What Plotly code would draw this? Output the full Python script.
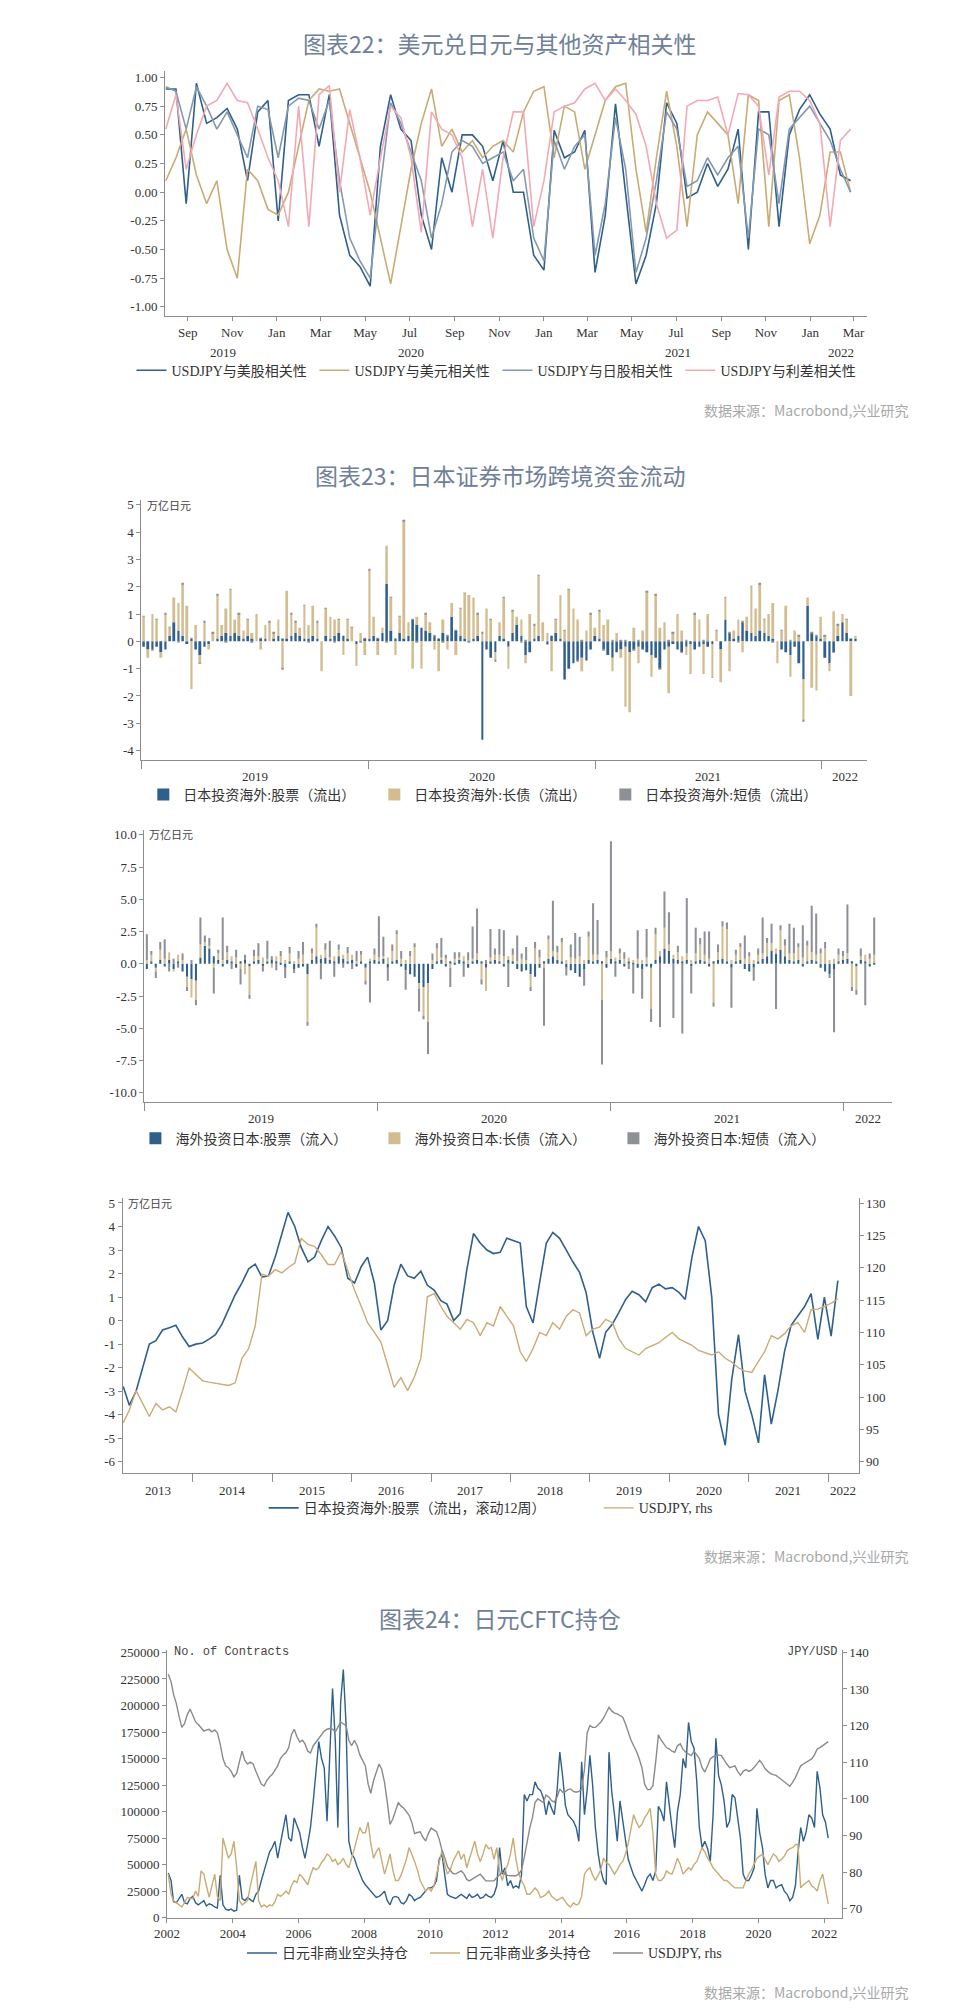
import pandas as pd
import plotly.graph_objects as go

# ---------------- DATA ----------------
# Chart 22: USDJPY correlations, bi-weekly from Aug 2019
p1_dates = pd.date_range("2019-08-02", periods=68, freq="14D")
corr_spx = [0.90, 0.90, -0.10, 0.95, 0.60, 0.65, 0.73, 0.55, 0.10, 0.70,
            0.80, -0.25, 0.80, 0.85, 0.85, 0.40, 0.85, -0.20, -0.55, -0.65,
            -0.82, 0.40, 0.85, 0.55, 0.45, -0.20, -0.50, 0.30, 0.00, 0.50,
            0.50, 0.40, 0.10, 0.45, 0.00, 0.00, -0.55, -0.68, 0.54, 0.30,
            0.35, 0.54, -0.70, -0.20, 0.77, 0.00, -0.80, -0.55, -0.10, 0.78,
            0.60, -0.05, 0.00, 0.25, 0.05, 0.20, 0.55, -0.50, 0.70, 0.70,
            -0.30, 0.50, 0.72, 0.85, 0.68, 0.55, 0.15, 0.10]
corr_usd = [0.10, 0.30, 0.55, 0.15, -0.10, 0.10, -0.50, -0.75, 0.20, 0.10,
            -0.15, -0.20, 0.00, 0.40, 0.80, 0.90, 0.88, 0.90, 0.60, 0.30,
            0.00, -0.40, -0.80, -0.30, 0.20, 0.60, 0.90, 0.40, 0.55, 0.35,
            0.45, 0.30, 0.40, 0.45, 0.35, 0.70, 0.88, 0.92, 0.30, 0.75,
            0.70, 0.20, 0.50, 0.80, 0.92, 0.95, 0.20, -0.35, 0.30, 0.88,
            0.40, -0.30, 0.50, 0.70, 0.60, 0.50, -0.10, 0.85, 0.80, -0.30,
            0.80, 0.85, 0.30, -0.45, -0.20, 0.35, 0.35, 0.00]
corr_nikkei = [0.92, 0.88, 0.55, 0.92, 0.75, 0.55, 0.70, 0.50, 0.30, 0.75,
               0.72, 0.30, 0.75, 0.82, 0.80, 0.55, 0.80, 0.10, -0.40, -0.60,
               -0.75, 0.05, 0.78, 0.60, 0.35, 0.10, -0.40, -0.10, 0.35, 0.45,
               0.40, 0.25, 0.30, 0.35, 0.10, 0.20, -0.40, -0.60, 0.45, 0.20,
               0.40, 0.50, -0.55, -0.10, 0.65, 0.20, -0.70, -0.40, 0.10, 0.70,
               0.55, 0.05, 0.10, 0.30, 0.15, 0.30, 0.40, -0.40, 0.55, 0.50,
               -0.10, 0.55, 0.65, 0.75, 0.60, 0.45, 0.20, 0.00]
corr_spread = [0.55, 0.85, 0.20, 0.50, 0.75, 0.80, 0.95, 0.80, 0.78, 0.55,
               0.30, 0.10, -0.30, 0.75, -0.30, 0.85, 0.93, 0.00, 0.72, 0.30,
               -0.20, 0.30, 0.75, 0.65, 0.30, -0.35, 0.70, 0.55, 0.50, 0.30,
               -0.30, 0.20, -0.40, 0.30, 0.70, 0.70, -0.30, 0.10, 0.70, 0.75,
               0.78, 0.90, 0.95, 0.80, 0.90, 0.80, 0.68, 0.40, -0.10, -0.40,
               -0.33, 0.75, 0.80, 0.80, 0.83, 0.50, 0.86, 0.85, 0.75, 0.15,
               0.83, 0.88, 0.88, 0.80, 0.60, -0.30, 0.45, 0.55]

# Chart 23 (top): Japanese investment abroad, weekly, 万亿日元
wk_dates = pd.date_range("2019-01-04", periods=165, freq="7D")
out_equity = [-0.2, -0.3, -0.3, -0.2, -0.4, -0.3, 0.2, 0.7, 0.4, 0.2,
              -0.1, 0.1, -0.3, -0.5, -0.2, -0.1, 0.0, 0.1, 0.2, 0.3,
              0.2, 0.3, 0.2, 0.1, 0.2, 0.1, 0.0, 0.1, 0.1, 0.0,
              0.1, 0.2, 0.1, 0.1, 0.2, 0.3, 0.2, 0.1, 0.1, 0.2,
              0.1, 0.0, 0.2, 0.1, 0.2, 0.3, 0.2, 0.1, 0.0, -0.1,
              0.0, 0.1, 0.1, 0.2, 0.1, 0.3, 2.1, 0.4, 0.1, 0.3,
              0.1, 0.2, 0.8, 0.6, 0.5, 0.4, 0.3, 0.2, 0.1, 0.3,
              0.2, 0.9, 0.4, 0.2, 0.1, 0.0, 0.1, 0.2, -3.6, -0.3,
              -0.6, -0.4, 0.2, 0.1, -0.2, 0.3, 0.6, 0.2, -0.5, -0.4,
              0.1, 0.2, 0.0, -0.1, 0.2, 0.3, 0.1, -1.4, -1.0, -0.8,
              -0.7, -0.6, -0.7, -0.3, 0.2, 0.1, -0.3, -0.5, -0.6, -0.4,
              -0.3, -0.2, -0.4, -0.3, -0.2, -0.3, -0.4, -0.5, -0.6, -1.0,
              -0.3, -0.2, -0.1, -0.3, -0.4, -0.2, -0.1, -0.3, -0.2, -0.1,
              -0.2, -0.1, 0.0, -0.3, 0.8, 0.3, 0.1, 0.2, 0.7, 0.4,
              0.3, 0.2, 0.4, 0.3, 0.2, 0.1, 0.0, -0.3, -0.4, -0.5,
              -0.2, -0.8, -1.4, 1.3, 0.3, 0.2, 0.1, -0.6, -0.8, -0.4,
              0.2, 0.7, 0.3, 0.1, 0.1]
out_longbond = [0.9, -0.3, 1.0, 0.8, -0.2, 1.0, 0.3, 0.9, 1.0, 1.9,
                1.3, -1.75, 0.6, -0.3, 0.7, -0.2, 0.3, 1.6, 0.4, 0.9,
                1.7, 0.5, 0.8, 0.3, 0.6, 0.2, 1.0, -0.3, 0.5, 0.7,
                0.2, 0.6, -1.0, 1.75, 0.8, 0.4, 0.3, 1.2, 0.5, 1.1,
                0.6, -1.1, 1.0, 0.8, 0.6, 0.5, -0.5, 0.7, 0.5, -0.8,
                0.3, -0.5, 2.5, 0.7, -0.5, 0.2, 1.4, 1.2, -0.5, 0.6,
                4.3, 0.5, -1.0, 0.3, -1.0, 0.6, 0.4, -0.3, -1.1, 0.5,
                -0.3, 0.5, -0.5, 1.0, 1.7, 1.7, 1.5, 0.8, 0.3, 1.2,
                0.8, -0.3, 0.5, 1.5, -0.8, 0.8, 0.3, 0.6, -0.3, 1.0,
                0.5, 2.2, 0.7, 0.3, -1.1, 0.5, 1.6, 0.4, 1.9, 1.2,
                0.8, -0.5, 0.4, 1.0, 0.3, 1.0, 0.6, 0.8, -0.5, 0.3,
                -0.3, -2.2, -2.2, 0.5, -0.6, 0.4, 1.8, -0.8, 1.7, 0.5,
                0.7, -1.7, 0.3, 1.0, 0.4, -0.3, -1.1, 1.0, 0.8, -1.1,
                1.0, -1.2, 0.4, -1.2, 0.8, -1.1, 0.3, 0.6, -0.4, 0.5,
                1.7, 1.0, 1.7, 0.5, 0.8, 1.3, -0.8, 0.4, 1.3, -0.8,
                0.4, 0.2, -1.5, 0.3, -1.7, -1.8, 0.8, 0.2, -0.3, 1.1,
                0.4, 0.3, 0.5, -2.0, 0.1]
out_shortbond = [0.02, 0.0, -0.02, 0.02, 0.0, 0.02, 0.03, 0.0, -0.02, 0.02, 0.0, 0.02, 0.0, -0.02, 0.02,
                 0.0, 0.02, 0.02, 0.0, -0.02, 0.02, 0.0, 0.02, 0.0, 0.02, -0.02, 0.0, 0.02, 0.0, 0.02,
                 0.02, 0.0, -0.02, 0.0, 0.02, 0.02, 0.0, 0.02, -0.02, 0.0, 0.02, 0.0, 0.02, 0.0, -0.02,
                 0.02, 0.0, 0.02, 0.02, 0.0, -0.02, 0.02, 0.03, 0.0, 0.02, 0.0, -0.02, 0.02, 0.0, 0.02,
                 0.02, 0.0, 0.02, -0.02, 0.0, 0.02, 0.0, 0.02, 0.0, -0.02, 0.02, 0.0, 0.02, 0.02, 0.0,
                 -0.02, 0.0, 0.02, 0.03, 0.0, 0.02, -0.02, 0.0, 0.02, 0.0, 0.02, 0.0, -0.02, 0.02, 0.0,
                 0.02, 0.02, 0.0, -0.02, 0.0, 0.02, 0.0, 0.02, 0.02, 0.0, -0.02, 0.02, 0.0, 0.02, 0.0,
                 0.02, -0.02, 0.0, 0.02, 0.0, 0.02, 0.02, 0.0, -0.02, 0.02, 0.0, 0.02, 0.0, 0.02, -0.02,
                 0.0, 0.02, 0.02, 0.0, -0.02, 0.02, 0.0, 0.02, 0.0, 0.02, 0.0, -0.02, 0.02, 0.0, 0.02,
                 0.02, 0.0, -0.02, 0.02, 0.0, 0.02, 0.0, 0.02, 0.02, 0.0, -0.02, 0.0, 0.02, 0.0, 0.02,
                 0.0, 0.02, -0.02, 0.0, 0.02, 0.02, 0.0, 0.02, 0.0, -0.02, 0.02, 0.0, 0.02, 0.0, 0.0]

# Chart 23 (middle): foreign investment into Japan, weekly
in_equity = [-0.4, 0.2, -0.3, 0.3, -0.2, 0.3, -0.4, 0.2, -0.6, -1.0,
             -1.2, -1.3, 0.5, 1.4, 1.2, 0.6, 0.3, -0.2, 0.3, 0.2,
             -0.3, 0.2, 0.3, -0.2, 0.2, 0.3, -0.2, 0.2, 0.3, 0.2,
             0.1, -0.3, 0.2, -0.4, -0.3, -0.2, -0.8, 0.3, 0.6, 0.4,
             0.5, 0.3, 0.2, 0.6, 0.4, 0.2, 0.3, -0.2, 0.2, -0.3,
             0.2, 0.3, 0.2, 0.4, -0.3, 0.2, 0.3, -0.2, -0.5, -0.8,
             -1.0, -1.5, -1.8, -1.5, -0.4, 0.2, 0.3, -0.2, 0.2, 0.1,
             0.3, 0.2, -0.3, 0.2, 0.3, 0.2, -0.3, 0.2, 0.3, 0.2,
             -0.2, 0.3, 0.2, -0.4, -0.6, -0.5, -0.8, -1.0, -0.3, 0.2,
             0.4, 0.6, 0.3, 0.2, -0.3, -0.5, -0.7, -1.0, -0.4, 0.3,
             0.2, 0.3, 0.2, -0.3, 0.4, 0.2, 0.3, -0.2, 0.2, 0.1,
             -0.3, -0.4, -0.2, -0.3, 0.3, 0.6, 1.2, 1.0, 0.4, 0.3,
             0.2, 0.3, -0.2, 0.2, 0.3, 0.2, -0.2, 0.2, 0.3, 0.4,
             0.2, -0.3, 0.2, 0.3, -0.4, -0.6, -0.3, 0.2, 0.4, 0.6,
             1.0, 0.8, 1.1, 0.6, 0.3, 0.2, 0.3, -0.2, 0.2, 0.3,
             0.2, -0.3, -0.6, -0.8, -0.4, 0.2, 0.3, 0.4, 0.2, -0.2,
             0.3, 0.2, -0.2, 0.1, 0.0]
in_longbond = [0.3, 0.5, -0.3, 0.8, 0.4, 0.6, -0.2, 0.5, 0.3, -0.8,
               -1.4, -1.5, 1.0, 0.3, 0.2, -0.3, 0.5, 0.3, 0.6, 0.4,
               0.5, -0.4, -0.8, -2.2, 0.4, 0.3, 0.5, 0.2, -0.3, 0.4,
               0.5, 0.3, 0.6, 0.2, 0.4, 0.7, -3.7, 0.5, 2.2, 0.3,
               0.6, 0.2, 0.4, 0.5, 0.3, 0.6, 0.4, 0.2, 0.5, -1.0,
               0.2, 0.4, 0.3, 0.2, 0.5, 0.8, 2.0, 0.4, 0.3, 0.6,
               1.3, -0.4, -2.2, -3.0, 0.3, 1.0, 0.2, 0.4, -0.3, 0.3,
               0.2, 0.4, 0.3, 0.2, 0.5, -1.2, -1.8, 0.3, 0.4, 0.5,
               0.6, 0.3, 0.5, 0.2, 0.4, 0.3, -1.0, 1.2, 0.5, -0.3,
               1.5, 0.4, 0.6, 1.5, 0.3, 0.5, 0.4, 0.6, 0.3, 1.8,
               0.5, 0.4, -2.8, 0.5, 0.6, 0.3, 0.5, 0.4, 0.3, 0.2,
               0.4, 0.3, 0.5, -3.2, 2.0, 0.4, 1.6, 0.5, 0.3, 0.6,
               0.4, 0.5, 0.3, 0.6, 1.2, 0.5, 0.4, -3.0, 0.6, 2.5,
               2.5, 0.3, 0.5, 1.0, 0.4, 0.6, 0.3, 0.5, 0.4, 1.0,
               0.6, 0.4, 1.5, 0.8, 0.5, 0.6, 1.0, 0.5, 1.2, 0.6,
               0.5, 0.8, 1.2, 0.3, 0.4, 0.5, 0.3, 0.4, -1.8, -1.8,
               0.3, 0.5, 0.4, 0.6, 0.0]
in_shortbond = [2.0, 0.3, -0.5, 0.6, 1.5, -0.6, 0.4, -0.3, 0.5, -0.3,
                0.3, -0.4, 2.1, 0.5, 0.6, -2.0, 0.3, 3.3, 0.5, -0.4,
                0.6, -1.2, 0.4, -0.3, 0.5, 1.0, -0.4, 1.4, 0.3, -0.5,
                0.4, -0.8, 0.5, -0.3, 0.6, 1.0, -0.3, 0.4, 0.3, -1.2,
                0.5, 1.3, -1.0, 0.4, -0.3, 0.5, -0.4, 0.8, 0.3, -0.3,
                -3.0, 0.5, 3.2, 1.5, -1.0, 0.5, 0.3, 0.6, -1.5, 0.4,
                0.3, -1.8, -0.3, -2.5, 0.5, 0.4, 1.5, 0.3, -1.5, 0.5,
                0.4, -1.0, 0.6, 2.5, 3.5, -0.4, 0.3, 2.2, 0.5, 2.0,
                2.0, -1.8, 0.5, 2.0, 0.4, 1.0, -0.3, 0.5, 0.6, -4.5,
                0.3, 3.9, 0.5, 0.3, -0.6, 1.0, 2.0, 1.5, -1.3, 0.4,
                4.0, 2.7, -5.0, 0.5, 8.5, -1.0, 0.4, 0.5, -0.4, -2.3,
                2.2, -2.3, 2.2, -1.0, 0.5, -4.9, 2.8, 2.5, -4.2, 0.5,
                -5.4, 4.3, -2.1, 2.0, 0.5, 1.8, 2.1, -0.3, 0.6, 0.4,
                0.5, -3.1, 0.4, 0.3, 1.8, 0.3, -1.0, 0.5, 2.8, 0.4,
                1.5, -3.5, 0.4, 0.5, 2.3, 2.0, 0.3, 2.5, 0.4, 3.6,
                3.2, 0.4, 0.5, -0.3, -4.9, 0.5, 0.4, 3.8, -0.3, -0.4,
                0.6, -3.2, 0.4, 2.9, 0.0]

# Chart 23 (bottom): rolling 12w equity outflow vs USDJPY, monthly
p4_dates = pd.date_range("2013-02-01", periods=109, freq="MS") + pd.Timedelta(days=14)
roll_equity = [-2.8, -3.6, -3.0, -2.0, -1.0, -0.85, -0.4, -0.3, -0.2, -0.7,
               -1.1, -1.0, -0.95, -0.8, -0.6, -0.15, 0.5, 1.1, 1.6, 2.2,
               2.4, 1.85, 1.9, 2.7, 3.7, 4.6, 4.0, 3.1, 2.5, 2.7,
               3.4, 4.0, 3.6, 3.1, 1.8, 1.6, 2.3, 2.7, 1.6, -0.4,
               0.0, 1.5, 2.4, 1.9, 1.8, 2.1, 1.5, 1.3, 0.85, 0.7,
               0.0, 0.3, 2.2, 3.7, 3.3, 3.0, 2.85, 2.9, 3.5, 3.4,
               3.3, 0.6, -0.1, 1.6, 3.3, 3.75, 3.5, 3.0, 2.5, 2.05,
               1.2, -0.5, -1.6, -0.5, -0.15, 0.35, 0.9, 1.25, 1.1, 0.8,
               1.4, 1.55, 1.35, 1.4, 1.2, 0.9, 2.7, 4.0, 3.4, 1.0,
               -4.0, -5.3, -2.5, -0.6, -3.0, -4.0, -5.2, -2.3, -4.4, -3.0,
               -1.3, -0.2, 0.2, 0.6, 1.15, -0.8, 1.0, -0.66, 1.7]
usdjpy_p4 = [96, 98, 101, 99, 97, 99, 98, 98.5, 97.7, 101,
             104.5, 103.5, 102.5, 102.3, 102.1, 102, 101.8, 102.2, 106, 107.5,
             111, 119, 118.7, 119.7, 119.2, 120, 120.7, 124.5, 123.6, 123.3,
             122, 120.5, 120.5, 122.5, 119.5, 116.5, 114, 111.5, 110, 108.5,
             105, 101.5, 103, 101, 103, 106, 115.5, 116, 114, 112.5,
             111.5, 110.5, 112, 111.5, 109.5, 111.5, 111, 114, 112.5, 111,
             107, 105.5, 107.5, 110, 109.5, 111.5, 110.5, 112.5, 113.5, 113,
             109.5, 110.5, 110.8, 112, 111.5, 109, 107.5, 107, 106.5, 107.5,
             107.9, 108.4, 109.2, 110, 109, 108.5, 108, 107.2, 106.8, 106.5,
             107, 106, 105.4, 104.5, 104, 103.8, 105.5, 107, 109.5, 109,
             109.8, 111, 111.5, 110, 113.5, 113.6, 114, 114.5, 115.2]

# Chart 24: JPY CFTC positioning, monthly from Jan 2002
p5_dates = pd.date_range("2002-01-01", periods=242, freq="MS") + pd.Timedelta(days=14)
cftc_short = [42000, 35000, 15000, 14000, 18000, 22000, 14000, 13000, 18000, 20000, 14000, 12000,
              14000, 16000, 11000, 13000, 12000, 10000, 9000, 40000, 12000, 8000, 7000, 8000,
              6000, 7000, 40000, 18000, 16000, 19000, 17000, 15000, 22000, 25000, 35000, 45000,
              53000, 62000, 66000, 72000, 56000, 70000, 85000, 97000, 75000, 72000, 94000, 88000,
              80000, 66000, 56000, 70000, 85000, 110000, 138000, 166000, 150000, 141000, 91000, 150000,
              216000, 166000, 85000, 203000, 234000, 181000, 72000, 60000, 56000, 48000, 41000, 35000,
              31000, 28000, 25000, 22000, 19000, 20000, 22000, 25000, 16000, 12000, 19000, 20000,
              19000, 14000, 13000, 16000, 22000, 20000, 16000, 18000, 19000, 22000, 25000, 28000,
              28000, 30000, 35000, 55000, 60000, 40000, 22000, 20000, 19000, 18000, 20000, 22000,
              20000, 18000, 22000, 19000, 20000, 22000, 18000, 19000, 22000, 20000, 19000, 22000,
              30000, 66000, 41000, 47000, 30000, 35000, 28000, 30000, 28000, 40000, 116000, 110000,
              116000, 116000, 128000, 122000, 120000, 113000, 97000, 110000, 103000, 97000, 120000, 156000,
              134000, 106000, 97000, 94000, 91000, 85000, 72000, 147000, 97000, 120000, 153000, 125000,
              85000, 60000, 45000, 35000, 31000, 156000, 119000, 97000, 72000, 110000, 90000, 72000,
              55000, 47000, 40000, 35000, 30000, 25000, 31000, 38000, 41000, 35000, 44000, 105000,
              100000, 91000, 128000, 103000, 85000, 66000, 100000, 116000, 150000, 141000, 184000, 166000,
              160000, 128000, 85000, 66000, 72000, 65000, 53000, 97000, 169000, 134000, 125000, 110000,
              85000, 91000, 116000, 113000, 95000, 75000, 41000, 35000, 35000, 40000, 47000, 103000,
              80000, 66000, 41000, 28000, 35000, 35000, 28000, 30000, 31000, 25000, 22000, 16000,
              19000, 30000, 60000, 85000, 72000, 81000, 97000, 94000, 85000, 138000, 122000, 97000,
              90000, 75000]
cftc_long = [41000, 22000, 16000, 14000, 12000, 10000, 14000, 19000, 18000, 18000, 25000, 20000,
             44000, 41000, 30000, 19000, 30000, 41000, 20000, 16000, 75000, 66000, 56000, 60000,
             72000, 47000, 16000, 12000, 14000, 16000, 30000, 41000, 53000, 16000, 10000, 12000,
             10000, 12000, 11000, 15000, 22000, 20000, 22000, 25000, 22000, 30000, 35000, 33000,
             41000, 38000, 35000, 31000, 40000, 47000, 45000, 47000, 52000, 55000, 60000, 58000,
             53000, 55000, 50000, 52000, 56000, 50000, 47000, 55000, 65000, 75000, 85000, 80000,
             80000, 90000, 70000, 56000, 62000, 66000, 55000, 41000, 50000, 60000, 45000, 35000,
             35000, 40000, 47000, 55000, 66000, 60000, 53000, 45000, 35000, 30000, 25000, 28000,
             25000, 30000, 41000, 50000, 63000, 50000, 41000, 45000, 53000, 58000, 63000, 55000,
             60000, 47000, 55000, 65000, 72000, 60000, 53000, 60000, 69000, 65000, 66000, 55000,
             66000, 44000, 35000, 44000, 50000, 60000, 75000, 55000, 41000, 35000, 30000, 22000,
             22000, 25000, 28000, 25000, 19000, 20000, 22000, 25000, 20000, 18000, 16000, 18000,
             19000, 15000, 12000, 10000, 14000, 12000, 13000, 20000, 41000, 45000, 47000, 40000,
             35000, 40000, 45000, 56000, 52000, 50000, 45000, 41000, 45000, 50000, 53000, 60000,
             70000, 85000, 97000, 90000, 85000, 88000, 94000, 98000, 103000, 80000, 41000, 35000,
             35000, 38000, 44000, 42000, 41000, 48000, 56000, 50000, 41000, 44000, 47000, 45000,
             50000, 53000, 60000, 66000, 62000, 56000, 52000, 47000, 44000, 41000, 38000, 35000,
             35000, 32000, 30000, 28000, 28000, 28000, 28000, 35000, 41000, 45000, 50000, 56000,
             58000, 60000, 55000, 50000, 55000, 60000, 58000, 53000, 55000, 58000, 63000, 65000,
             66000, 69000, 69000, 28000, 31000, 33000, 35000, 30000, 28000, 25000, 35000, 41000,
             25000, 13000]
usdjpy_p5 = [134, 132, 128.5, 126, 122.5, 119.5, 120.5, 123, 124.5, 122.5, 121, 120.3,
             119.5, 118.5, 118.8, 119, 118.3, 118.8, 118, 115, 111, 109, 108.5, 107.5,
             106, 107, 110, 113, 110.5, 109.5, 110, 109.5, 107.5, 105.5, 104, 103.5,
             105, 106, 106.6, 107.8, 109, 111, 112, 112.6, 114, 117.5, 119, 117,
             115.5, 116, 115, 113, 112.5, 114.5, 115.5, 116.5, 117.5, 118.5, 119, 119.2,
             119, 118.3, 119.5, 121, 120.5, 120, 116, 114.5, 116, 114.5, 112, 110.5,
             109, 104, 101.5, 105, 107.5, 109.5, 108, 104.5, 99, 93, 94.5, 97,
             99, 98, 97.5, 96.5, 95.5, 93.5, 90.5, 90.8, 91, 89.5, 88.5, 90.5,
             92, 91.5, 91, 89, 86, 84, 81.5, 80.5, 79.6, 79.5, 80, 80.3,
             79.5, 78, 77.6, 78, 78.5, 79, 79.4, 78.5, 77.6, 77.6, 77.6, 77.6,
             78.5, 79.4, 80, 79.5, 79.1, 79, 79, 79, 79.5, 80.5, 84, 88,
             92, 95, 99, 100, 99.5, 99, 101, 100.5, 99.5, 99.1, 100.5, 102.7,
             101.8, 102, 102.5, 102.7, 102, 101.8, 102, 102.7, 108, 118, 120, 119.5,
             119.5, 120.2, 120.9, 122, 123.6, 125, 124, 123.4, 123.2, 122.8, 122.3, 120.5,
             118, 116, 114.5, 113, 111, 108.5, 104, 102.5, 102.5, 103.6, 110, 117.5,
             116, 115, 114, 113.6, 113, 112.7, 114.5, 115, 113.5, 112.7, 112.3, 111.8,
             113, 112, 111, 108.5, 107.3, 109, 110.9, 111.5, 111.8, 112, 111.8, 110.5,
             109.5, 108.5, 108.8, 109, 107.5, 106.4, 107.5, 108, 107.5, 107.8, 108.6, 109.5,
             110.5, 109.5, 108.2, 107.5, 106.9, 106.6, 106.4, 105.8, 105.2, 104.5, 104, 103.4,
             104.5, 105.8, 107.4, 109, 109.5, 110, 110.5, 110.9, 112, 113.6, 114, 114.5,
             115, 115.6]

# tick labels
p1_month_ticks = ["2019-09-01", "2019-11-01", "2020-01-01", "2020-03-01", "2020-05-01", "2020-07-01",
                  "2020-09-01", "2020-11-01", "2021-01-01", "2021-03-01", "2021-05-01", "2021-07-01",
                  "2021-09-01", "2021-11-01", "2022-01-01", "2022-03-01"]
p1_month_text = ["Sep", "Nov", "Jan", "Mar", "May", "Jul", "Sep", "Nov",
                 "Jan", "Mar", "May", "Jul", "Sep", "Nov", "Jan", "Mar"]
p1_year_pos = ["2019-10-20", "2020-07-03", "2021-07-03", "2022-02-12"]
p1_year_text = ["2019", "2020", "2021", "2022"]
p1_yticks = [1.0, 0.75, 0.5, 0.25, 0.0, -0.25, -0.5, -0.75, -1.0]
p1_ytext = ["1.00", "0.75", "0.50", "0.25", "0.00", "-0.25", "-0.50", "-0.75", "-1.00"]

p2_yticks = [5, 4, 3, 2, 1, 0, -1, -2, -3, -4]
p2_ytext = ["5", "4", "3", "2", "1", "0", "-1", "-2", "-3", "-4"]
p3_yticks = [10, 7.5, 5, 2.5, 0, -2.5, -5, -7.5, -10]
p3_ytext = ["10.0", "7.5", "5.0", "2.5", "0.0", "-2.5", "-5.0", "-7.5", "-10.0"]
bar_year_bounds = ["2019-01-01", "2020-01-01", "2021-01-01", "2022-01-01"]
bar_year_pos = ["2019-07-02", "2020-07-02", "2021-07-02", "2022-02-08"]
bar_year_text = ["2019", "2020", "2021", "2022"]

p4_yticks = [5, 4, 3, 2, 1, 0, -1, -2, -3, -4, -5, -6]
p4_ytext = ["5", "4", "3", "2", "1", "0", "-1", "-2", "-3", "-4", "-5", "-6"]
p4_rticks = [130, 125, 120, 115, 110, 105, 100, 95, 90]
p4_year_bounds = ["2014-01-01", "2015-01-01", "2016-01-01", "2017-01-01", "2018-01-01",
                  "2019-01-01", "2020-01-01", "2021-01-01", "2022-01-01"]
p4_year_pos = ["2013-07-25", "2014-07-02", "2015-07-02", "2016-07-02", "2017-07-02",
               "2018-07-02", "2019-07-02", "2020-07-02", "2021-07-02", "2022-03-12"]
p4_year_text = ["2013", "2014", "2015", "2016", "2017", "2018", "2019", "2020", "2021", "2022"]

p5_xticks = ["2002-01-01", "2004-01-01", "2006-01-01", "2008-01-01", "2010-01-01", "2012-01-01",
             "2014-01-01", "2016-01-01", "2018-01-01", "2020-01-01", "2022-01-01"]
p5_xtext = ["2002", "2004", "2006", "2008", "2010", "2012", "2014", "2016", "2018", "2020", "2022"]
p5_lticks = [0, 25000, 50000, 75000, 100000, 125000, 150000, 175000, 200000, 225000, 250000]
p5_rticks = [70, 80, 90, 100, 110, 120, 130, 140]

# ---------------- STYLE / LAYOUT ----------------
W, H = 960, 2011
BLUE = "#2f5f8c"
TAN = "#d4bc91"
TANL = "#c9ab74"
GRAYB = "#8d9096"
SLATE = "#8499b1"
PINK = "#f2a9b4"
GRAYL = "#8a8a8a"
AX = "#8c8c8c"
TITLE_C = "#6f8098"
SERIF = "Liberation Serif, Noto Sans CJK SC"
CJK = "Noto Sans CJK SC"


def xd(l, r):
    return [l / W, r / W]


def yd(t, b):
    return [1 - b / H, 1 - t / H]


def py(p):
    return 1 - p / H


def px(p):
    return p / W


tickfont = dict(family=SERIF, size=13, color="#333333")
base_ax = dict(showline=True, linecolor=AX, linewidth=1, ticks="outside", tickcolor=AX,
               ticklen=4, showgrid=False, zeroline=False, tickfont=tickfont)

fig = go.Figure()

# Panel 1
for name, ys, col in [("USDJPY与美股相关性", corr_spx, BLUE),
                      ("USDJPY与美元相关性", corr_usd, TANL),
                      ("USDJPY与日股相关性", corr_nikkei, SLATE),
                      ("USDJPY与利差相关性", corr_spread, PINK)]:
    fig.add_trace(go.Scatter(x=p1_dates, y=ys, name=name, mode="lines",
                             line=dict(color=col, width=1.6), xaxis="x", yaxis="y",
                             legend="legend"))

# Panel 2
bw = 3.2 * 24 * 3600 * 1000
for name, ys, col in [("日本投资海外:股票（流出）", out_equity, BLUE),
                      ("日本投资海外:长债（流出）", out_longbond, TAN),
                      ("日本投资海外:短债（流出）", out_shortbond, GRAYB)]:
    fig.add_trace(go.Bar(x=wk_dates, y=ys, name=name, marker=dict(color=col, line=dict(width=0)),
                         width=bw, xaxis="x2", yaxis="y2", legend="legend2"))

# Panel 3
for name, ys, col in [("海外投资日本:股票（流入）", in_equity, BLUE),
                      ("海外投资日本:长债（流入）", in_longbond, TAN),
                      ("海外投资日本:短债（流入）", in_shortbond, GRAYB)]:
    fig.add_trace(go.Bar(x=wk_dates, y=ys, name=name, marker=dict(color=col, line=dict(width=0)),
                         width=bw, xaxis="x3", yaxis="y3", legend="legend3"))

# Panel 4
fig.add_trace(go.Scatter(x=p4_dates, y=roll_equity, name="日本投资海外:股票（流出，滚动12周）",
                         mode="lines", line=dict(color=BLUE, width=1.6), xaxis="x4", yaxis="y4",
                         legend="legend4"))
fig.add_trace(go.Scatter(x=p4_dates, y=usdjpy_p4, name="USDJPY, rhs", mode="lines",
                         line=dict(color=TANL, width=1.4), xaxis="x4", yaxis="y5",
                         legend="legend4"))

# Panel 5
fig.add_trace(go.Scatter(x=p5_dates, y=cftc_short, name="日元非商业空头持仓", mode="lines",
                         line=dict(color=BLUE, width=1.4), xaxis="x5", yaxis="y6", legend="legend5"))
fig.add_trace(go.Scatter(x=p5_dates, y=cftc_long, name="日元非商业多头持仓", mode="lines",
                         line=dict(color=TANL, width=1.4), xaxis="x5", yaxis="y6", legend="legend5"))
fig.add_trace(go.Scatter(x=p5_dates, y=usdjpy_p5, name="USDJPY, rhs", mode="lines",
                         line=dict(color=GRAYL, width=1.4), xaxis="x5", yaxis="y7", legend="legend5"))

legfont = dict(family=SERIF, size=14, color="#333333")


def leg(x, y, ew):
    return dict(orientation="h", x=px(x), y=py(y), xanchor="left", yanchor="middle",
                font=legfont, entrywidth=ew, entrywidthmode="pixels",
                bgcolor="rgba(0,0,0,0)", itemclick=False, traceorder="normal")


fig.update_layout(
    width=W, height=H, margin=dict(l=0, r=0, t=0, b=0),
    paper_bgcolor="white", plot_bgcolor="white",
    barmode="relative", showlegend=True,
    legend=leg(112, 360, 138),
    legend2=leg(124, 787, 186),
    legend3=leg(116, 1133, 194),
    legend4=leg(246, 1505, 290),
    legend5=leg(224, 1953, 138),
    xaxis=dict(base_ax, domain=xd(146, 858), anchor="y",
               range=["2019-08-01", "2022-03-20"], tickvals=p1_month_ticks, ticktext=p1_month_text),
    yaxis=dict(base_ax, domain=yd(58, 305), anchor="x", range=[-1.08, 1.06],
               tickvals=p1_yticks, ticktext=p1_ytext),
    xaxis2=dict(base_ax, domain=xd(122, 858), anchor="y2", range=["2018-12-31", "2022-03-16"],
                tickvals=bar_year_bounds, ticktext=["", "", "", ""], ticklen=8),
    yaxis2=dict(base_ax, domain=yd(490, 752), anchor="x2", range=[-4.35, 5.18],
                tickvals=p2_yticks, ticktext=p2_ytext),
    xaxis3=dict(base_ax, domain=xd(125, 883), anchor="y3", range=["2018-12-31", "2022-03-18"],
                tickvals=bar_year_bounds, ticktext=["", "", "", ""], ticklen=8),
    yaxis3=dict(base_ax, domain=yd(822, 1096), anchor="x3", range=[-10.7, 10.4],
                tickvals=p3_yticks, ticktext=p3_ytext),
    xaxis4=dict(base_ax, domain=xd(103, 849), anchor="y4", range=["2013-02-12", "2022-05-21"],
                tickvals=p4_year_bounds, ticktext=[""] * 9, ticklen=8),
    yaxis4=dict(base_ax, domain=yd(1193, 1470), anchor="x4", range=[-6.5, 5.2],
                tickvals=p4_yticks, ticktext=p4_ytext),
    yaxis5=dict(base_ax, anchor="x4", overlaying="y4", side="right", range=[88.18, 130.73],
                tickvals=p4_rticks, ticktext=[str(v) for v in p4_rticks]),
    xaxis5=dict(base_ax, domain=xd(148, 832), anchor="y6", range=["2002-01-01", "2022-07-15"],
                tickvals=p5_xticks, ticktext=p5_xtext),
    yaxis6=dict(base_ax, domain=yd(1648, 1917), anchor="x5", range=[0, 252000],
                tickvals=p5_lticks, ticktext=[str(v) for v in p5_lticks]),
    yaxis7=dict(base_ax, anchor="x5", overlaying="y6", side="right", range=[67.56, 140.54],
                tickvals=p5_rticks, ticktext=[str(v) for v in p5_rticks]),
)

ann = []


def text(x, y, s, size=13, color="#333333", family=SERIF, xanchor="center", xref="paper", **kw):
    ann.append(dict(x=x if xref != "paper" else px(x), y=py(y), xref=xref, yref="paper", text=s,
                    showarrow=False, xanchor=xanchor, yanchor="middle",
                    font=dict(size=size, color=color, family=family), **kw))


# titles
text(486, 30, "图表22：美元兑日元与其他资产相关性", size=23, color=TITLE_C, family=CJK)
text(486, 465, "图表23：日本证券市场跨境资金流动", size=23, color=TITLE_C, family=CJK)
text(486, 1615, "图表24：日元CFTC持仓", size=23, color=TITLE_C, family=CJK)
# sources
for yy in (400, 1553, 1992):
    text(901, yy, "数据来源：Macrobond,兴业研究", size=14, color="#a8a8a8", family=CJK, xanchor="right")
# year labels
for pos, t in zip(p1_year_pos, p1_year_text):
    text(pos, 342, t, xref="x")
for pos, t in zip(bar_year_pos, bar_year_text):
    text(pos, 768, t, xref="x2")
    text(pos, 1113, t, xref="x3")
for pos, t in zip(p4_year_pos, p4_year_text):
    text(pos, 1487, t, xref="x4")
# unit labels
text(126, 495, "万亿日元", size=11, color="#444444", family=CJK, xanchor="left")
text(128, 826, "万亿日元", size=11, color="#444444", family=CJK, xanchor="left")
text(106, 1198, "万亿日元", size=11, color="#444444", family=CJK, xanchor="left")
text(153, 1650, "No. of Contracts", size=12, color="#444444", family="Liberation Mono", xanchor="left")
text(829, 1650, "JPY/USD", size=12, color="#444444", family="Liberation Mono", xanchor="right")

fig.update_layout(annotations=ann)
fig.write_html("out.html")
